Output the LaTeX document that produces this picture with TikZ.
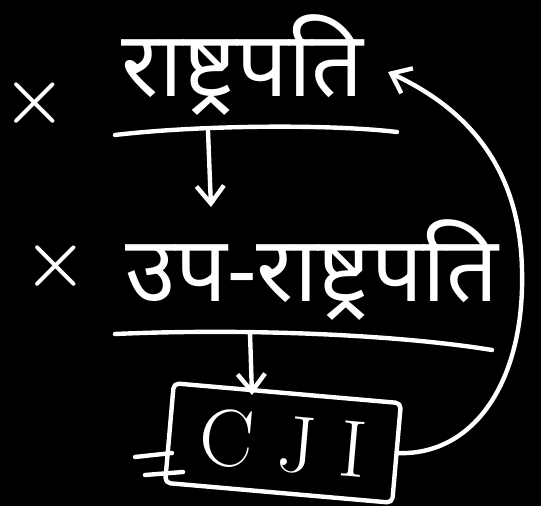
\documentclass[tikz,border=0pt]{standalone}
\usepackage{fontspec}
\newfontfamily\devfont[Script=Devanagari]{Noto Sans}
\usetikzlibrary{arrows.meta}

\begin{document}
\begin{tikzpicture}[x=0.02cm, y=-0.02cm,
  ink/.style={draw=white, line width=2.5pt, line cap=round, line join=round},
  arrow/.style={ink, -{Straight Barb[length=3.5mm, width=5.5mm]}},
  hindi/.style={text=white, font=\devfont\fontsize{52}{60}\selectfont, inner sep=0pt},
  crossmark/.style={text=white, font=\bfseries\fontsize{42}{42}\selectfont, inner sep=0pt},
  cjibox/.style={ink, rounded corners=3pt, minimum width=4.56cm, minimum height=2cm,
    text=white, font=\fontsize{46}{46}\selectfont}
]
\fill[black] (0,0) rectangle (541,506);
\useasboundingbox (0,0) rectangle (541,506);

% titles
\node[crossmark] (x1) at (35,103) {×};
\node[hindi] (pres) at (243,65) {राष्ट्रपति};
\node[crossmark] (x2) at (56,266) {×};
\node[hindi] (vice) at (312,270) {उप-राष्ट्रपति};
\node[cjibox, rotate=-5] (cji) at (283,443) {C\hspace{0.3em}J\hspace{0.3em}I};

% rules under the titles
\coordinate (tap1) at (208,131);
\coordinate (tap2) at (250,333);
\draw[ink] (115,135) .. controls (200,125) and (330,124) .. (397,132);
\draw[ink] (115,334) .. controls (250,328) and (400,335) .. (492,350);

% struck marks on the box
\draw[ink] (135,457) -- (172,453);
\draw[ink] (145,475) -- (183,472);

% links
\coordinate (head2) at (211,207);
\coordinate (head3) at (252,395);
\coordinate (ret) at (388,72);
\draw[arrow] (tap1) -- (head2);
\draw[arrow] (tap2) -- (head3);
\draw[arrow] (cji.east) .. controls (475,455) and (525,380) .. (522,270)
  .. controls (520,170) and (470,110) .. (ret);
\end{tikzpicture}
\end{document}
